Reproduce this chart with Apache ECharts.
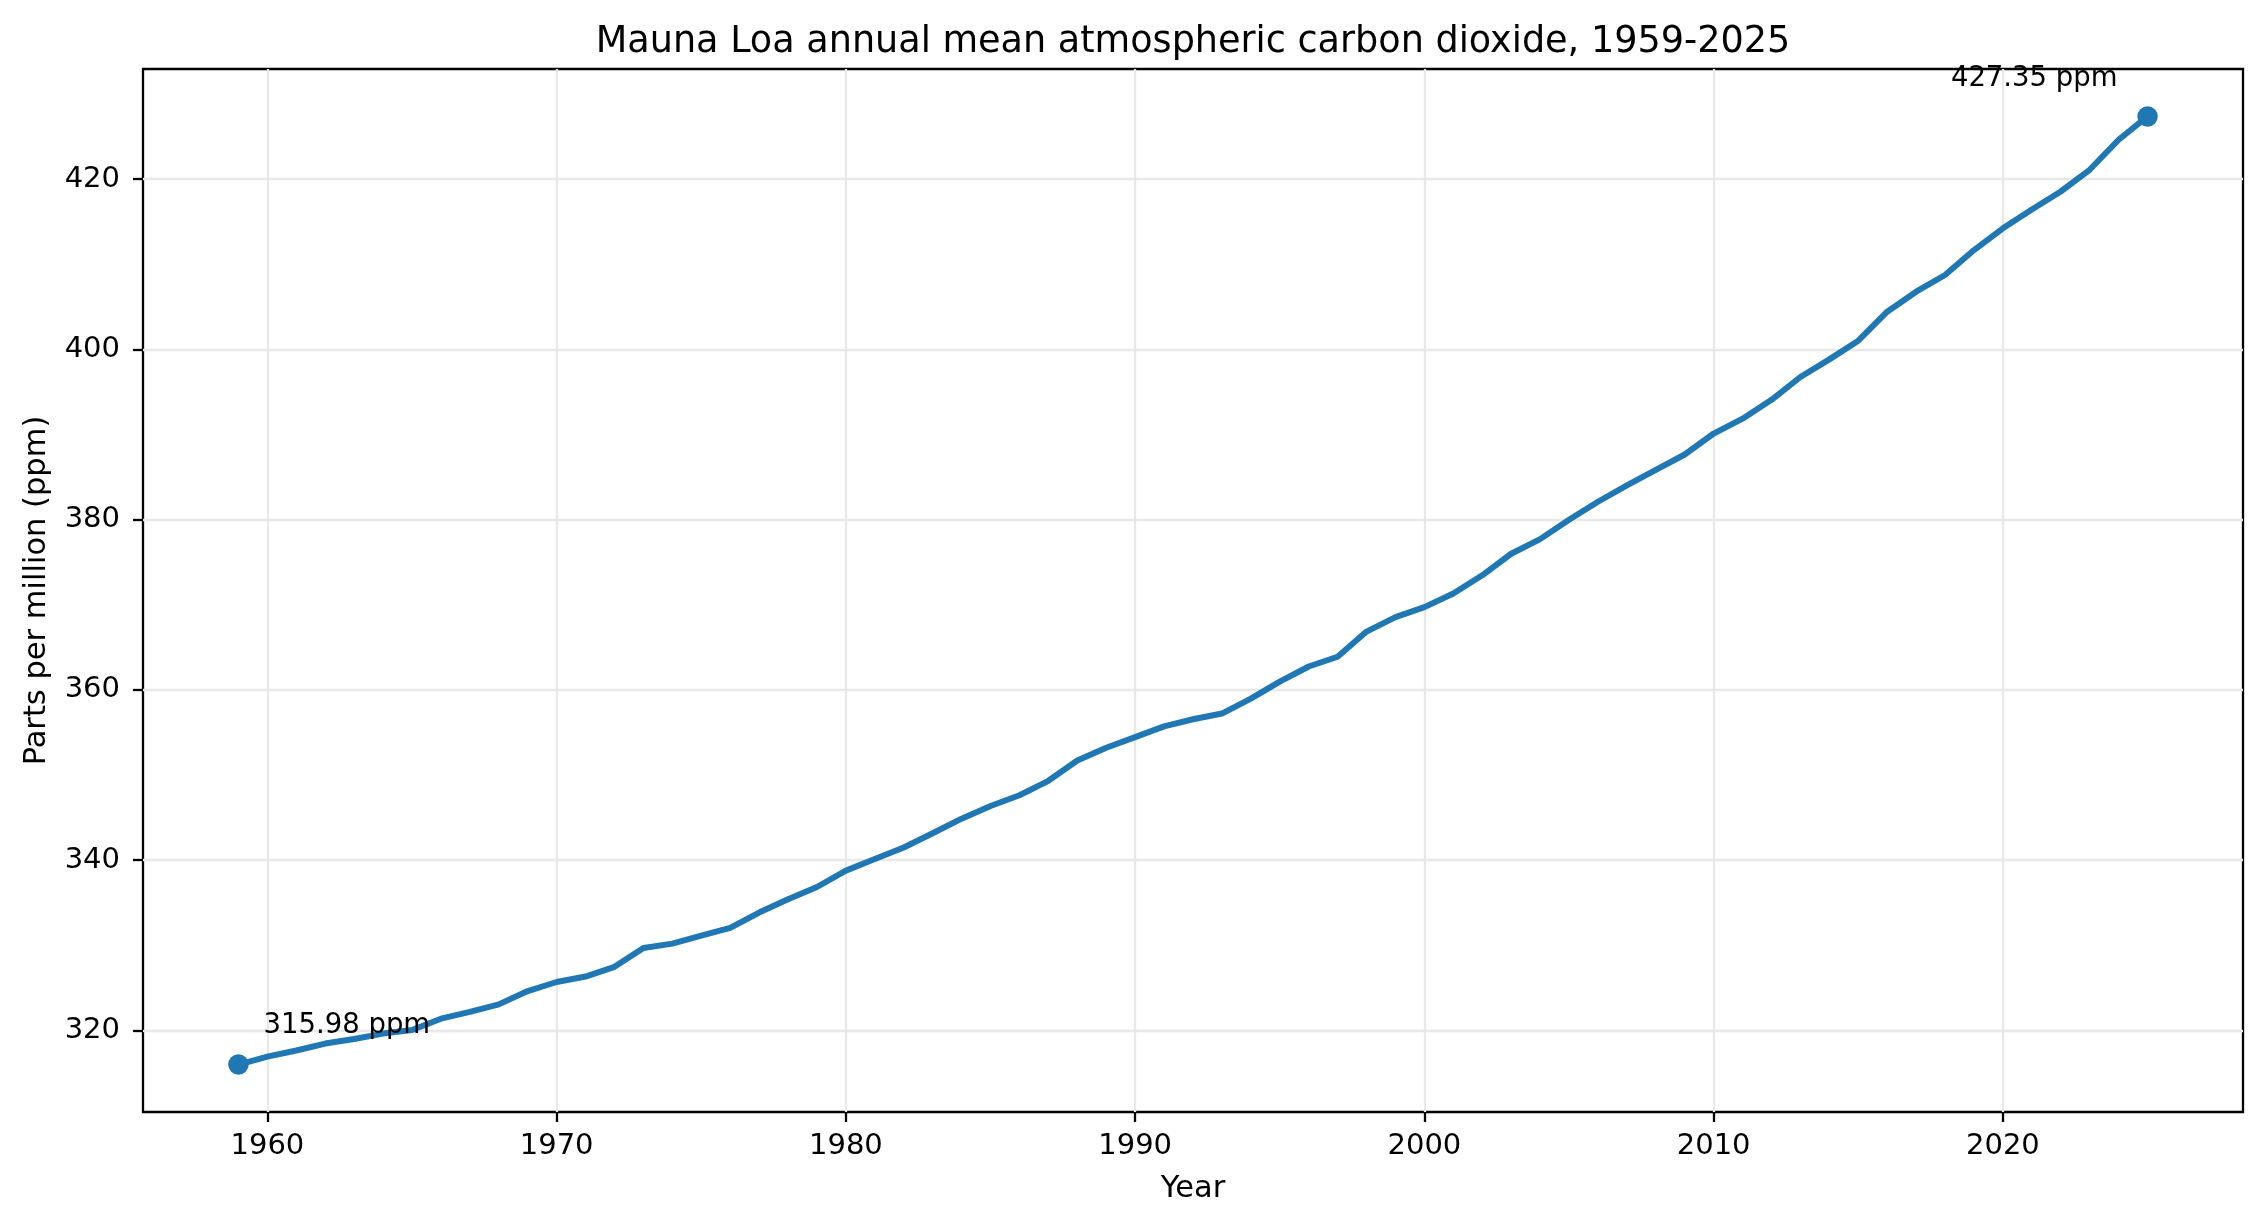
<!DOCTYPE html>
<html>
<head>
<meta charset="utf-8">
<script src="https://cdn.jsdelivr.net/npm/echarts@6/dist/echarts.min.js"></script>
<style>html,body{margin:0;padding:0;background:#fff;}#chart{width:2264px;height:1226px;}</style>
</head>
<body>
<div id="chart"></div>
<script>
const years = [1959,1960,1961,1962,1963,1964,1965,1966,1967,1968,1969,1970,1971,1972,1973,1974,1975,1976,1977,1978,1979,1980,1981,1982,1983,1984,1985,1986,1987,1988,1989,1990,1991,1992,1993,1994,1995,1996,1997,1998,1999,2000,2001,2002,2003,2004,2005,2006,2007,2008,2009,2010,2011,2012,2013,2014,2015,2016,2017,2018,2019,2020,2021,2022,2023,2024,2025];
const co2 = [315.98,316.91,317.64,318.45,318.99,319.62,320.04,321.37,322.18,323.05,324.62,325.68,326.32,327.46,329.68,330.19,331.13,332.03,333.84,335.41,336.84,338.76,340.12,341.48,343.15,344.87,346.35,347.61,349.31,351.69,353.20,354.45,355.70,356.54,357.21,358.96,360.97,362.74,363.88,366.84,368.54,369.71,371.32,373.45,375.98,377.70,379.98,382.09,384.02,385.83,387.64,390.10,391.85,394.06,396.74,398.81,401.01,404.41,406.76,408.72,411.65,414.21,416.41,418.53,421.08,424.61,427.35];
const xTicks = [1960,1970,1980,1990,2000,2010,2020];
const yTicks = [320,340,360,380,400,420];
const titleText = 'Mauna Loa annual mean atmospheric carbon dioxide, 1959-2025';

const n = years.length;
const xSpan = years[n-1] - years[0];
const yMinV = Math.min(...co2), yMaxV = Math.max(...co2);
const ySpan = yMaxV - yMinV;
const xMin = years[0] - 0.05 * xSpan, xMax = years[n-1] + 0.05 * xSpan;
const yMin = yMinV - 0.05 * ySpan, yMax = yMaxV + 0.05 * ySpan;

const lineData = years.map((y, i) => [y, co2[i]]);
const font = 'DejaVu Sans';
const chart = echarts.init(document.getElementById('chart'), null, {renderer: 'canvas'});
chart.setOption({
  animation: false,
  backgroundColor: '#ffffff',
  title: {
    text: titleText, left: 1193, top: 24, textAlign: 'center', padding: 0,
    textStyle: {fontFamily: font, fontSize: 36.6, fontWeight: 'normal', color: '#000'}
  },
  grid: {left: 143, right: 21, top: 69, bottom: 114, show: true, borderColor: '#000', borderWidth: 2.3, backgroundColor: 'transparent', containLabel: false},
  xAxis: {
    type: 'value', min: xMin, max: xMax,
    name: 'Year', nameLocation: 'middle', nameGap: 62,
    nameTextStyle: {fontFamily: font, fontSize: 30.5, color: '#000'},
    axisLine: {show: false},
    axisTick: {show: true, customValues: xTicks, length: 10, lineStyle: {color: '#000', width: 2.3}},
    axisLabel: {customValues: xTicks, formatter: v => String(v), fontFamily: font, fontSize: 29, color: '#000', margin: 20},
    splitLine: {show: true, lineStyle: {color: '#e8e8e8', width: 2.3}}
  },
  yAxis: {
    type: 'value', min: yMin, max: yMax,
    name: 'Parts per million (ppm)', nameLocation: 'middle', nameGap: 90, nameRotate: 90,
    nameTextStyle: {fontFamily: font, fontSize: 30.5, color: '#000'},
    axisLine: {show: false},
    axisTick: {show: true, customValues: yTicks, length: 10, lineStyle: {color: '#000', width: 2.3}},
    axisLabel: {customValues: yTicks, formatter: v => String(v), fontFamily: font, fontSize: 29, color: '#000', margin: 23},
    splitLine: {show: true, lineStyle: {color: '#e8e8e8', width: 2.3}}
  },
  series: [
    {
      type: 'line', data: lineData, showSymbol: false, smooth: false,
      lineStyle: {color: '#1f77b4', width: 6}, itemStyle: {color: '#1f77b4'}, z: 2
    },
    {
      type: 'scatter', symbol: 'circle', symbolSize: 20.5, z: 3,
      itemStyle: {color: '#1f77b4', opacity: 1},
      emphasis: {disabled: true},
      data: [
        {value: [years[0], co2[0]], label: {show: true, position: 'inside', align: 'left', verticalAlign: 'bottom', offset: [25, -25]}},
        {value: [years[n-1], co2[n-1]], label: {show: true, position: 'inside', align: 'right', verticalAlign: 'bottom', offset: [-30, -24]}}
      ],
      label: {
        formatter: p => p.value[1].toFixed(2) + ' ppm',
        fontFamily: font, fontSize: 27.5, color: '#000', opacity: 1
      }
    }
  ]
});
</script>
</body>
</html>
